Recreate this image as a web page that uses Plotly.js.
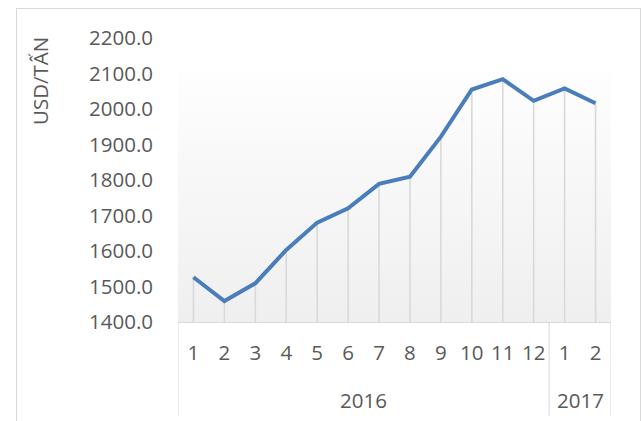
<!DOCTYPE html>
<html>
<head>
<meta charset="utf-8">
<script src="https://cdn.plot.ly/plotly-3.0.1.min.js"></script>
<style>
  html, body { margin: 0; padding: 0; background: #ffffff; }
  #chart { position: absolute; left: 0; top: 0; width: 641px; height: 421px; }
  #frame { position: absolute; left: 16px; top: 8px; width: 625px; height: 420px;
           border: 1px solid #d9d9d9; pointer-events: none; box-sizing: border-box; }
</style>
</head>
<body>
<div id="chart"></div>
<div id="frame"></div>
<script>
// ---- data ----
var years  = ['2016','2016','2016','2016','2016','2016','2016','2016','2016','2016','2016','2016','2017','2017'];
var months = ['1','2','3','4','5','6','7','8','9','10','11','12','1','2'];
var prices = [1526, 1459, 1509, 1603, 1680, 1720, 1789, 1809, 1922, 2055, 2084, 2023, 2058, 2016];
var yBase = 1400;
var yTop = 2200;
var yTitle = 'USD/TẤN';

// category positions (index of each category on the axis)
var idx = months.map(function (m, i) { return i; });

// drop-line lengths derived from the data
var dropMinus = prices.map(function (v) { return v - yBase; });
var dropPlus = prices.map(function () { return 0; });

// year groups: boundaries and centres derived from the years array
var groups = [];
years.forEach(function (y, i) {
  var g = groups[groups.length - 1];
  if (!g || g.name !== y) { groups.push({ name: y, first: i, last: i }); }
  else { g.last = i; }
});

var fontFam = '"Open Sans", "Liberation Sans", sans-serif';
var txtColor = '#595959';
var gridCol = '#d9d9d9';
var fs = 20.5;

var gradSvg = "<svg xmlns='http://www.w3.org/2000/svg' width='100' height='100' viewBox='0 0 100 100' preserveAspectRatio='none'>" +
  "<defs><linearGradient id='g' x1='0' y1='0' x2='0' y2='1'>" +
  "<stop offset='0' stop-color='#fefefe'/><stop offset='1' stop-color='#efefef'/>" +
  "</linearGradient></defs><rect x='0' y='0' width='100' height='100' fill='url(#g)'/></svg>";
var gradUri = 'data:image/svg+xml;charset=utf-8,' + encodeURIComponent(gradSvg);

var traces = [
  {
    type: 'scatter',
    mode: 'markers',
    x: idx,
    y: prices,
    marker: { size: 1, opacity: 0 },
    error_y: {
      type: 'data', symmetric: false,
      array: dropPlus, arrayminus: dropMinus,
      color: gridCol, thickness: 1.6, width: 0
    },
    hoverinfo: 'skip',
    showlegend: false
  },
  {
    type: 'scatter',
    mode: 'lines',
    x: idx,
    y: prices,
    line: { color: '#4a7ebb', width: 4 },
    showlegend: false
  }
];

var divLow = -0.33;   // how far dividers reach below the axis (paper units)
var shapes = [];
var annotations = [];
groups.forEach(function (g, k) {
  if (k === 0) {
    shapes.push({ type: 'line', xref: 'x', yref: 'paper', x0: g.first - 0.5, x1: g.first - 0.5,
                  y0: 0, y1: divLow, line: { color: gridCol, width: 1 } });
  }
  shapes.push({ type: 'line', xref: 'x', yref: 'paper', x0: g.last + 0.5, x1: g.last + 0.5,
                y0: 0, y1: divLow, line: { color: gridCol, width: 1 } });
  annotations.push({
    text: g.name, xref: 'x', yref: 'paper',
    x: (g.first + g.last) / 2, y: -0.275,
    xanchor: 'center', yanchor: 'middle', showarrow: false,
    font: { family: fontFam, size: fs, color: txtColor }
  });
});
annotations.push({
  text: yTitle, xref: 'paper', yref: 'paper',
  x: -0.319, y: 0.848, xanchor: 'center', yanchor: 'middle',
  textangle: -90, showarrow: false,
  font: { family: fontFam, size: fs, color: txtColor }
});

var layout = {
  width: 641,
  height: 421,
  margin: { l: 178, r: 30, t: 38, b: 99 },
  paper_bgcolor: 'rgba(0,0,0,0)',
  plot_bgcolor: 'rgba(0,0,0,0)',
  font: { family: fontFam, size: fs, color: txtColor },
  showlegend: false,
  images: [{
    source: gradUri,
    xref: 'paper', yref: 'paper',
    x: 0, y: 0.885, sizex: 1, sizey: 0.885,
    xanchor: 'left', yanchor: 'top',
    sizing: 'stretch', layer: 'below'
  }],
  shapes: shapes,
  annotations: annotations,
  xaxis: {
    type: 'linear',
    range: [-0.5, months.length - 0.5],
    tickmode: 'array',
    tickvals: idx,
    ticktext: months,
    showline: true,
    linecolor: gridCol,
    linewidth: 1,
    showgrid: false,
    zeroline: false,
    ticks: '',
    ticklabelstandoff: 12,
    tickfont: { family: fontFam, size: fs, color: txtColor }
  },
  yaxis: {
    range: [yBase, yTop],
    dtick: 100,
    tick0: yBase,
    tickformat: '.1f',
    showgrid: false,
    zeroline: false,
    showline: false,
    ticks: '',
    ticklabelstandoff: 24,
    tickfont: { family: fontFam, size: fs, color: txtColor }
  }
};

Plotly.newPlot('chart', traces, layout, { displayModeBar: false, staticPlot: true });
</script>
</body>
</html>
